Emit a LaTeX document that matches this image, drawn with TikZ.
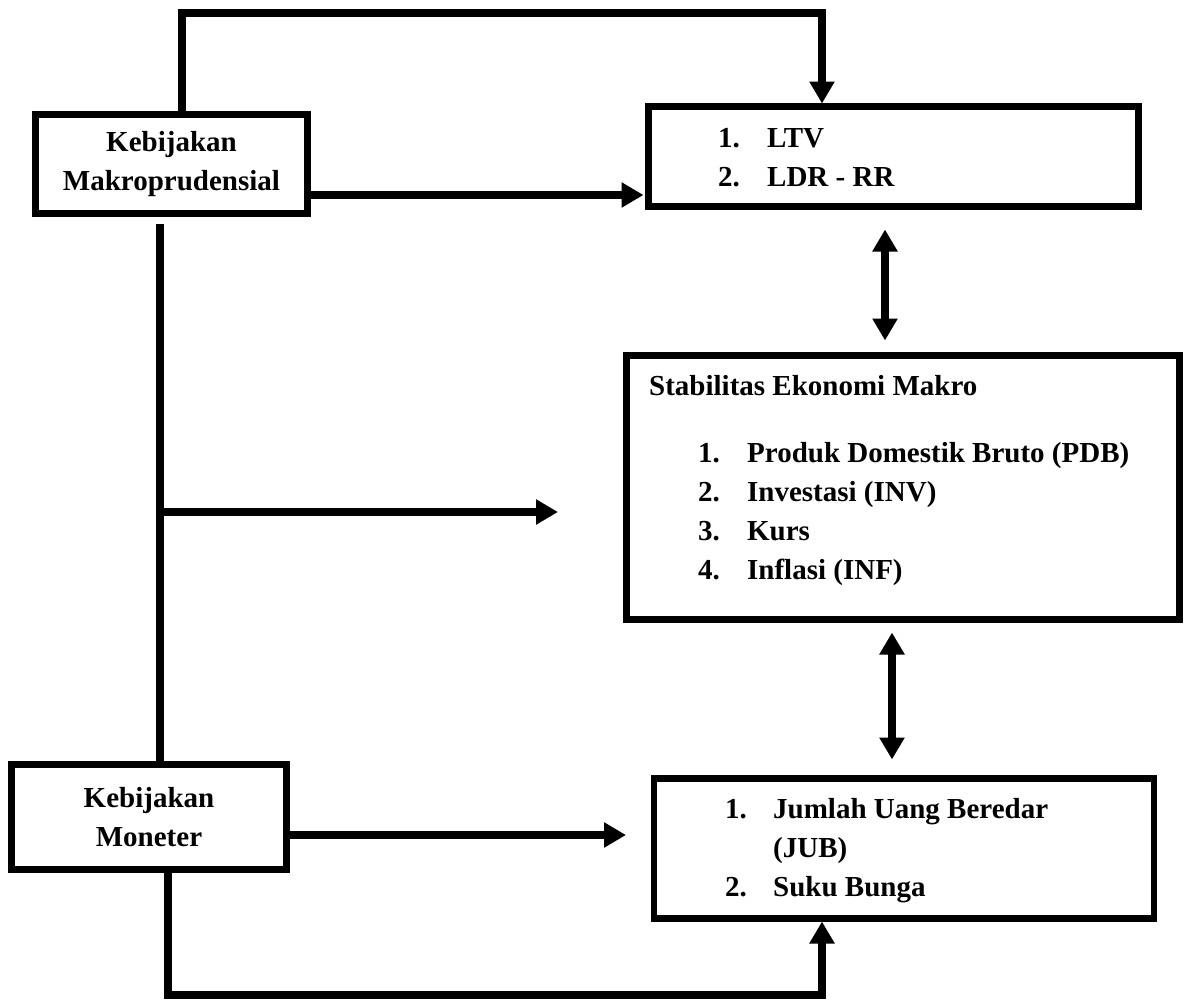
\documentclass[tikz,border=0pt]{standalone}
\usepackage{fontspec}
\setmainfont{Liberation Serif}
\usetikzlibrary{arrows.meta}
\begin{document}
\begin{tikzpicture}[x=1pt,y=-1pt,
	box/.style={draw,line width=6.5pt,inner sep=0pt,outer sep=0pt},
	txt/.style={font=\fontsize{29}{39}\selectfont\bfseries,inner sep=0pt},
	link/.style={line width=7.5pt},
	arr/.style={link,-{Triangle[length=22pt,width=24pt]}},
	dblarr/.style={link,{Triangle[length=22pt,width=24pt]}-{Triangle[length=22pt,width=24pt]}}]
	\useasboundingbox (0,0) rectangle (1187,1002);

	\node[box,txt,align=center,minimum width=272pt,minimum height=99pt] (makro) at (171.5,164) {Kebijakan\\Makroprudensial};
	\node[box,txt,align=center,minimum width=275pt,minimum height=105pt] (moneter) at (149,817) {Kebijakan\\Moneter};

	\node[box,minimum width=490pt,minimum height=100pt] (ltv) at (893.5,156.5) {};
	\node[txt,anchor=base west] (ltvisi) at (718,147) {\begin{tabular}[t]{@{}p{49pt}@{}l@{}}1.&LTV\\2.&LDR - RR\end{tabular}};

	\node[box,minimum width=553pt,minimum height=264pt] (stab) at (903,487.5) {};
	\node[txt,anchor=base west] (stabjudul) at (649,395) {Stabilitas Ekonomi Makro};
	\node[txt,anchor=base west] (stabisi) at (698,462) {\begin{tabular}[t]{@{}p{49pt}@{}l@{}}1.&Produk Domestik Bruto (PDB)\\2.&Investasi (INV)\\3.&Kurs\\4.&Inflasi (INF)\end{tabular}};

	\node[box,minimum width=500pt,minimum height=140pt] (jub) at (904,848.5) {};
	\node[txt,anchor=base west] (jubisi) at (725,818) {\begin{tabular}[t]{@{}p{48pt}@{}l@{}}1.&Jumlah Uang Beredar\\&(JUB)\\2.&Suku Bunga\end{tabular}};

	\coordinate (atas) at (822,13);
	\coordinate (bawah) at (822,995);
	\coordinate (cabang) at (160,512);
	\coordinate (ujung) at (558,512);

	\draw[arr,shorten >=3pt] ([xshift=10.5pt]makro.north) |- (atas) -- (atas |- ltv.north);
	\draw[arr,shorten >=5pt] ([yshift=-31pt]makro.east) -- ([yshift=-31pt]makro.east -| ltv.west);
	\draw[link] ([xshift=-11.5pt,yshift=-10.5pt]makro.south) -- ([xshift=-11.5pt]makro.south |- moneter.north);
	\draw[arr] (cabang) -- (ujung);
	\draw[dblarr,shorten <=23pt,shorten >=15pt] ([xshift=-8.5pt]ltv.south) -- ([xshift=-8.5pt]ltv.south |- stab.north);
	\draw[dblarr,shorten <=13pt,shorten >=19pt] ([xshift=-11pt]stab.south) -- ([xshift=-11pt]stab.south |- jub.north);
	\draw[arr,shorten >=28pt] ([yshift=-18pt]moneter.east) -- ([yshift=-18pt]moneter.east -| jub.west);
	\draw[arr,shorten >=3pt] ([xshift=19pt]moneter.south) |- (bawah) -- (bawah |- jub.south);
	%\draw[link] (stab.east) -- ++(20,0);
\end{tikzpicture}
\end{document}
